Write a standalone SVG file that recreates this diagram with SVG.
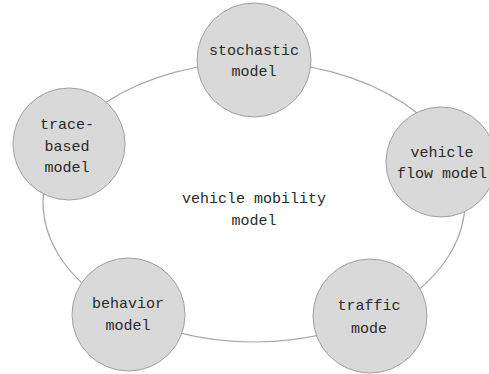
<svg xmlns="http://www.w3.org/2000/svg" width="489" height="374" viewBox="0 0 489 374">
<style>
.node circle{fill:#d9d9d9;stroke:#a0a0a0;stroke-width:1}
.conn{fill:none;stroke:#a8a8a8;stroke-width:1.2}
text{font-family:"Liberation Mono","DejaVu Sans Mono",monospace;font-size:15px;fill:#2a2a2a;text-anchor:middle}
</style>
<rect width="489" height="374" fill="#fff"/>
<g id="connectors">
<ellipse class="conn" cx="254" cy="202" rx="211" ry="140"/>
</g>
<g id="center-label">
<text x="254" y="203">vehicle mobility</text>
<text x="254" y="225">model</text>
</g>
<g id="stochastic" class="node">
<circle cx="254" cy="60" r="57"/>
<text x="254" y="55">stochastic</text>
<text x="254" y="76">model</text>
</g>
<g id="trace-based" class="node">
<circle cx="69" cy="144" r="56"/>
<text x="67" y="129">trace-</text>
<text x="67" y="151">based</text>
<text x="67" y="172">model</text>
</g>
<g id="vehicle-flow" class="node">
<circle cx="441" cy="162" r="55"/>
<text x="442" y="157">vehicle</text>
<text x="442" y="178">flow model</text>
</g>
<g id="behavior" class="node">
<circle cx="128.5" cy="314.5" r="56.5"/>
<text x="128" y="308">behavior</text>
<text x="128" y="330">model</text>
</g>
<g id="traffic" class="node">
<circle cx="370" cy="316" r="57"/>
<text x="369" y="310">traffic</text>
<text x="369" y="333">mode</text>
</g>
</svg>
